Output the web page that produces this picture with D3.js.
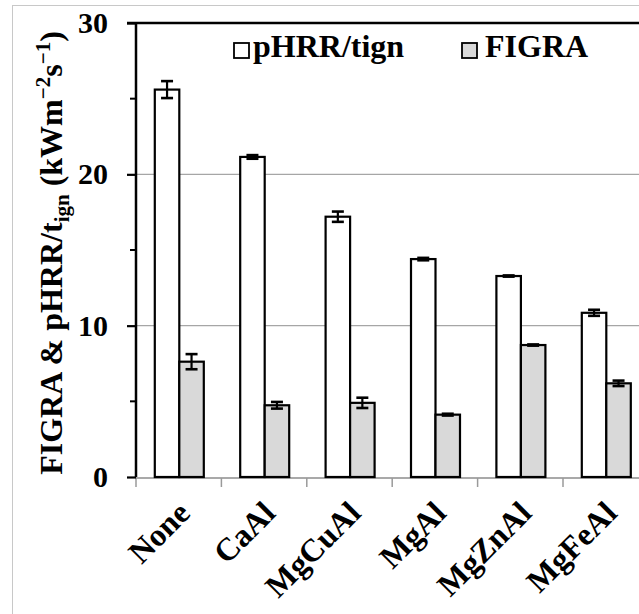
<!DOCTYPE html>
<html>
<head>
<meta charset="utf-8">
<script src="https://cdn.jsdelivr.net/npm/d3@7"></script>
<style>
  html, body { margin: 0; padding: 0; background: #fff; }
  svg { display: block; }
  text { font-family: "Liberation Serif", "Times New Roman", serif; font-weight: bold; fill: #000; }
</style>
</head>
<body>
<svg id="chart" width="639" height="614"></svg>
<script>
// Filler types on the category axis
const categories = ["None", "CaAl", "MgCuAl", "MgAl", "MgZnAl", "MgFeAl"];
// Series (kW m^-2 s^-1) with standard deviations
const pHRRtign    = [25.6, 21.15, 17.2, 14.4, 13.28, 10.85];
const pHRRtignErr = [0.56, 0.12, 0.34, 0.08, 0.04, 0.2];
const figra       = [7.62, 4.74, 4.9, 4.12, 8.72, 6.19];
const figraErr    = [0.5, 0.22, 0.34, 0.06, 0.04, 0.18];
const seriesNames = ["pHRR/tign", "FIGRA"];
const yTicks = [0, 10, 20, 30];
const yMinorTicks = [5, 15, 25];

const svg = d3.select("#chart");
const W = 639, H = 614;

// Outer chart frame
svg.append("rect")
  .attr("x", 12.5).attr("y", 5.5)
  .attr("width", 700).attr("height", 700)
  .attr("fill", "none").attr("stroke", "#c8c8c8").attr("stroke-width", 1);

const plotLeft = 136, bandW = 85.4;
const x = d3.scaleBand()
  .domain(categories)
  .range([plotLeft, plotLeft + bandW * categories.length])
  .padding(0);
const xSub = d3.scaleBand()
  .domain(seriesNames)
  .range([18.8, 67.8])
  .padding(0);
const y = d3.scaleLinear().domain([0, 30]).range([477, 23]);

// Horizontal gridlines
svg.append("g").selectAll("line")
  .data(yTicks.filter(t => t > 0 && t < 30))
  .join("line")
  .attr("x1", plotLeft).attr("x2", W)
  .attr("y1", d => y(d)).attr("y2", d => y(d))
  .attr("stroke", "#a6a6a6").attr("stroke-width", 1.2);

// Top line at the axis maximum
svg.append("line")
  .attr("x1", 127).attr("x2", W)
  .attr("y1", y(30)).attr("y2", y(30))
  .attr("stroke", "#000").attr("stroke-width", 2.5);

// Category axis (grey) with tick marks between groups
svg.append("line")
  .attr("x1", plotLeft).attr("x2", W)
  .attr("y1", y(0) + 1).attr("y2", y(0) + 1)
  .attr("stroke", "#8c8c8c").attr("stroke-width", 1.5);
svg.append("g").selectAll("line")
  .data(categories)
  .join("line")
  .attr("x1", d => x(d)).attr("x2", d => x(d))
  .attr("y1", y(0) + 1).attr("y2", y(0) + 10)
  .attr("stroke", "#9a9a9a").attr("stroke-width", 1.5);

// Value axis
const yAxis = d3.axisLeft(y).tickValues(yTicks).tickSize(9).tickPadding(19).tickFormat(d3.format("d"));
const ya = svg.append("g").attr("transform", `translate(${plotLeft},0)`).call(yAxis);
ya.select(".domain").attr("stroke", "#000").attr("stroke-width", 2.5).attr("d", `M0,${y(30)}V${y(0)}`);
ya.selectAll(".tick line").attr("stroke", "#000").attr("stroke-width", 2.2);
ya.selectAll(".tick text")
  .attr("font-family", "Liberation Serif, Times New Roman, serif")
  .attr("font-weight", "bold").attr("font-size", 30).attr("fill", "#000");
svg.append("g").selectAll("line")
  .data(yMinorTicks)
  .join("line")
  .attr("x1", plotLeft - 6).attr("x2", plotLeft)
  .attr("y1", d => y(d)).attr("y2", d => y(d))
  .attr("stroke", "#000").attr("stroke-width", 2);

// Bars
const rows = categories.map((c, i) => ({
  cat: c,
  vals: [
    { s: seriesNames[0], v: pHRRtign[i], e: pHRRtignErr[i], fill: "#ffffff" },
    { s: seriesNames[1], v: figra[i], e: figraErr[i], fill: "#d9d9d9" }
  ]
}));
const groups = svg.append("g").selectAll("g")
  .data(rows)
  .join("g")
  .attr("transform", d => `translate(${x(d.cat)},0)`);
groups.selectAll("rect")
  .data(d => d.vals)
  .join("rect")
  .attr("x", d => xSub(d.s))
  .attr("width", xSub.bandwidth())
  .attr("y", d => y(d.v))
  .attr("height", d => y(0) - y(d.v))
  .attr("fill", d => d.fill)
  .attr("stroke", "#000").attr("stroke-width", 2.2);

// Error bars
const eb = groups.selectAll("g.err")
  .data(d => d.vals)
  .join("g").attr("class", "err");
const cx = d => xSub(d.s) + xSub.bandwidth() / 2;
eb.append("line")
  .attr("x1", cx).attr("x2", cx)
  .attr("y1", d => y(d.v + d.e)).attr("y2", d => y(d.v - d.e))
  .attr("stroke", "#000").attr("stroke-width", 2.2);
eb.selectAll("line.cap")
  .data(d => [{ d, k: 1 }, { d, k: -1 }])
  .join("line").attr("class", "cap")
  .attr("x1", o => cx(o.d) - 6).attr("x2", o => cx(o.d) + 6)
  .attr("y1", o => y(o.d.v + o.k * o.d.e)).attr("y2", o => y(o.d.v + o.k * o.d.e))
  .attr("stroke", "#000").attr("stroke-width", 2.6);

// Category labels, rotated
svg.append("g").selectAll("text")
  .data(categories)
  .join("text")
  .attr("text-anchor", "end")
  .attr("font-size", 32)
  .attr("transform", d => `translate(${x(d) + bandW / 2 + 13},${y(0) + 38}) rotate(-45)`)
  .text(d => d);

// Value axis title
const yt = svg.append("text")
  .attr("text-anchor", "middle")
  .attr("font-size", 32)
  .attr("transform", `translate(62,${(y(0) + y(30)) / 2 + 3}) rotate(-90)`);
yt.append("tspan").text("FIGRA & pHRR/t");
yt.append("tspan").attr("font-size", 21).attr("dy", 7).text("ign");
yt.append("tspan").attr("dy", -7).text(" (kWm");
yt.append("tspan").attr("font-size", 21).attr("dy", -12).text("\u22122");
yt.append("tspan").attr("dy", 12).text("s");
yt.append("tspan").attr("font-size", 21).attr("dy", -12).text("\u22121");
yt.append("tspan").attr("dy", 12).text(")");

// Legend
const legend = [
  { name: seriesNames[0], fill: "#ffffff", x: 234, tx: 253 },
  { name: seriesNames[1], fill: "#d9d9d9", x: 462, tx: 485 }
];
const lg = svg.append("g").selectAll("g")
  .data(legend)
  .join("g");
lg.append("rect")
  .attr("x", d => d.x).attr("y", 43)
  .attr("width", 15).attr("height", 15)
  .attr("fill", d => d.fill).attr("stroke", "#000").attr("stroke-width", 1.8);
lg.append("text")
  .attr("x", d => d.tx).attr("y", 57)
  .attr("font-size", 32)
  .text(d => d.name);
</script>
</body>
</html>
